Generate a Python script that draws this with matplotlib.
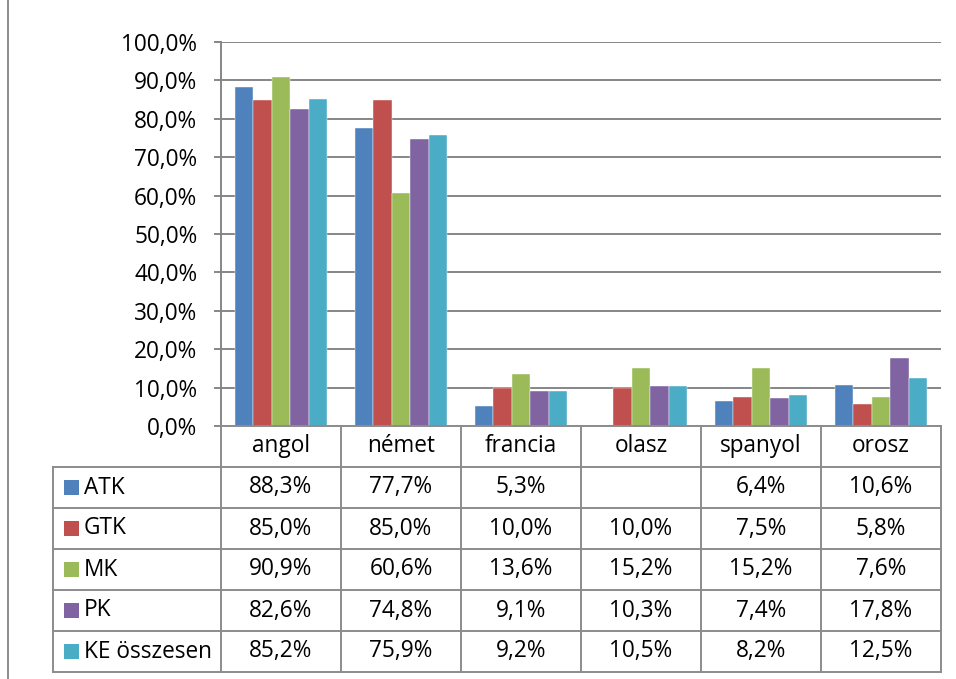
import matplotlib.pyplot as plt
import numpy as np
from matplotlib.lines import Line2D
from matplotlib.patches import Rectangle

plt.rcParams['font.family'] = ['Open Sans', 'DejaVu Sans']

categories = ['angol', 'német', 'francia', 'olasz', 'spanyol', 'orosz']
series_names = ['ATK', 'GTK', 'MK', 'PK', 'KE összesen']
atk = [88.3, 77.7, 5.3, np.nan, 6.4, 10.6]
gtk = [85.0, 85.0, 10.0, 10.0, 7.5, 5.8]
mk = [90.9, 60.6, 13.6, 15.2, 15.2, 7.6]
pk = [82.6, 74.8, 9.1, 10.3, 7.4, 17.8]
ke = [85.2, 75.9, 9.2, 10.5, 8.2, 12.5]
series = [atk, gtk, mk, pk, ke]
colors = ['#4F81BD', '#C0504D', '#9BBB59', '#8064A2', '#4BACC6']

W, H = 956, 679
fig = plt.figure(figsize=(W / 100, H / 100), dpi=100)
fs = 16.3

def fx(px):
    return px / W

def fy(py):
    return 1 - py / H

# plot area in pixel layout
left, right, top, bottom = 221, 941, 42, 426
ax = fig.add_axes([fx(left), fy(bottom), fx(right - left), (bottom - top) / H])

n = len(series)
bw = 1 / (n + 1.5)
x = np.arange(len(categories)) + 0.5
for i, (vals, c) in enumerate(zip(series, colors)):
    offs = (i - (n - 1) / 2) * bw
    ax.bar(x + offs, np.array(vals) / 100, width=bw, color=c, zorder=3,
           edgecolor='white', linewidth=0.3)

ax.set_xlim(0, len(categories))
ax.set_ylim(0, 1)
yt = np.arange(0, 1.01, 0.1)
ax.set_yticks(yt)
ax.set_yticklabels([('%.1f%%' % (v * 100)).replace('.', ',') for v in yt], fontsize=fs)
ax.set_xticks([])
ax.grid(axis='y', color='#868686', linewidth=1.4, zorder=0)
for s in ['top', 'right', 'bottom']:
    ax.spines[s].set_visible(False)
ax.spines['left'].set_color('#868686')
ax.spines['left'].set_linewidth(1.4)
ax.tick_params(axis='y', length=5, color='#868686', width=1.4, pad=12)

# data table
gray = '#8c8c8c'
colw = (right - left) / len(categories)
rowh = 41
label_left = 53
hdr_bottom = bottom + rowh

def hline(x0, x1, y):
    fig.add_artist(Line2D([fx(x0), fx(x1)], [fy(y), fy(y)], color=gray, lw=1.4))

def vline(xp, y0, y1):
    fig.add_artist(Line2D([fx(xp), fx(xp)], [fy(y0), fy(y1)], color=gray, lw=1.4))

# header row with category names
for j in range(len(categories) + 1):
    vline(left + j * colw, bottom, hdr_bottom + n * rowh)
hline(left, right, hdr_bottom - rowh)
for j, cat in enumerate(categories):
    fig.text(fx(left + (j + 0.5) * colw), fy(bottom + rowh / 2), cat,
             ha='center', va='center', fontsize=fs)

# rows
vline(label_left, hdr_bottom, hdr_bottom + n * rowh)
for i in range(n + 1):
    hline(label_left, right, hdr_bottom + i * rowh)
for i, (name, vals, c) in enumerate(zip(series_names, series, colors)):
    yc = hdr_bottom + (i + 0.5) * rowh
    fig.add_artist(Rectangle((fx(64), fy(yc + 7.5)), fx(15), 15 / H,
                             facecolor=c, edgecolor='none'))
    fig.text(fx(84), fy(yc), name, ha='left', va='center', fontsize=fs)
    for j, v in enumerate(vals):
        if np.isnan(v):
            continue
        fig.text(fx(left + (j + 0.5) * colw), fy(yc), ('%.1f%%' % v).replace('.', ','),
                 ha='center', va='center', fontsize=fs)

# outer frame line on the left
vline(8, 0, H)

fig.savefig('out.png', dpi=100)
